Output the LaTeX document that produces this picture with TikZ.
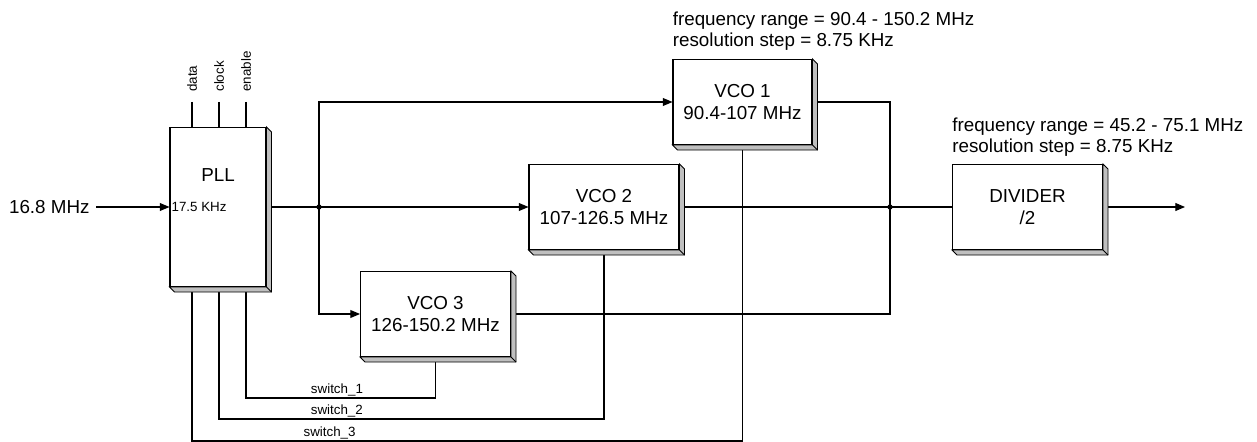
\documentclass[tikz,border=0pt]{standalone}
\usepackage{fontspec}
\setmainfont{Liberation Sans}
\usetikzlibrary{positioning, arrows.meta}

\begin{document}
\begin{tikzpicture}[
    x=0.02cm, y=-0.02cm,
    % Define styles for the nodes and paths
        box/.style={draw, fill=white, line width=0.6pt, inner sep=0pt, align=center, minimum width=3cm, minimum height=1.7cm, font=\fontsize{10.7}{12.2}\selectfont},
        textnode/.style={align=left, inner sep=0pt, font=\fontsize{10.7}{12.2}\selectfont},
        smalltext/.style={inner sep=1pt, font=\fontsize{7.6}{8.8}\selectfont},
        wire/.style={line width=0.6pt},
        arrow/.style={wire, -{Triangle[length=5.5pt, width=4.5pt]}},
        shade/.style={fill=black!25, draw, line width=0.5pt}
    ]

        \useasboundingbox (0,0) rectangle (1257,442);

        % Define the nodes
        \node[box, minimum width=1.92cm, minimum height=3.18cm] (pll) at (218,207) {};
        \node[textnode] (plltitle) at (218,175) {PLL};
        \node[smalltext, anchor=west] (ref) at (pll.west) {17.5 KHz};

        \node[textnode, inner sep=3.5pt, anchor=east] (in) at (96,207) {16.8 MHz};

        \node[box, minimum width=2.78cm] (vco1) at (742.5,102) {VCO 1\\90.4-107 MHz};

        \node[box] (vco2) at (604,207) {VCO 2\\107-126.5 MHz};

        \node[box] (vco3) at (435.5,314) {VCO 3\\126-150.2 MHz};

        \node[box] (div) at (1027.5,207) {DIVIDER\\/2};

        \node[textnode, above right=0.16cm and 0cm of vco1.north west] (note1) {frequency range = 90.4 - 150.2 MHz\\resolution step = 8.75 KHz};

        \node[textnode, above right=0.14cm and 0cm of div.north west] (note2) {frequency range = 45.2 - 75.1 MHz\\resolution step = 8.75 KHz};

        % Control inputs on top of the PLL
        \foreach \x/\name/\lbl in {192/dat/data, 219/clk/clock, 246/en/enable} {
            \coordinate (\name) at (\x,102);
            \node[smalltext, inner sep=0pt, rotate=90, anchor=west] (\name lbl) at (\x,92) {\lbl};
            \draw[wire] (\name) -- (\name |- pll.north);
        }

        % Junctions and free ends
        \coordinate (j1) at (319,207);
        \coordinate (j2) at (890,207);
        \coordinate (out) at (1185,207);
        \coordinate (s1) at (246,398);
        \coordinate (s2) at (219,419);
        \coordinate (s3) at (192,441);

        % Draw the signal paths
        \draw[arrow] (in) -- (pll);
        \draw[arrow] (pll) -- (vco2);
        \draw[arrow] (j1) |- (vco1);
        \draw[arrow] (j1) |- (vco3);
        \draw[wire] (vco1) -| (j2);
        \draw[wire] (vco3) -| (j2);
        \draw[wire] (vco2) -- (div);
        \draw[arrow] (div) -- (out);
        \fill (j1) circle (1.5pt);
        \fill (j2) circle (1.5pt);

        % Switch lines back to the VCOs
        \draw[wire] (pll.south -| s1) -- (s1) -| node[smalltext, above, pos=0.24] (sw1) {switch\_1} (vco3.south);
        \draw[wire] (pll.south -| s2) -- (s2) -| node[smalltext, above, pos=0.153] (sw2) {switch\_2} (vco2.south);
        \draw[wire] (pll.south -| s3) -- (s3) -| node[smalltext, above, pos=0.125] (sw3) {switch\_3} (vco1.south);

        % 3D edges of the boxes
        \foreach \n in {pll, vco1, vco2, vco3, div}
            \filldraw[shade] (\n.north east) -- ([shift={(5,5)}]\n.north east) -- ([shift={(5,5)}]\n.south east) -- ([shift={(5,5)}]\n.south west) -- (\n.south west) -- (\n.south east) -- cycle;
        \foreach \n in {pll, vco1, vco2, vco3, div}
            \draw[line width=0.5pt] (\n.south east) -- ([shift={(5,5)}]\n.south east);
    \end{tikzpicture}
\end{document}
